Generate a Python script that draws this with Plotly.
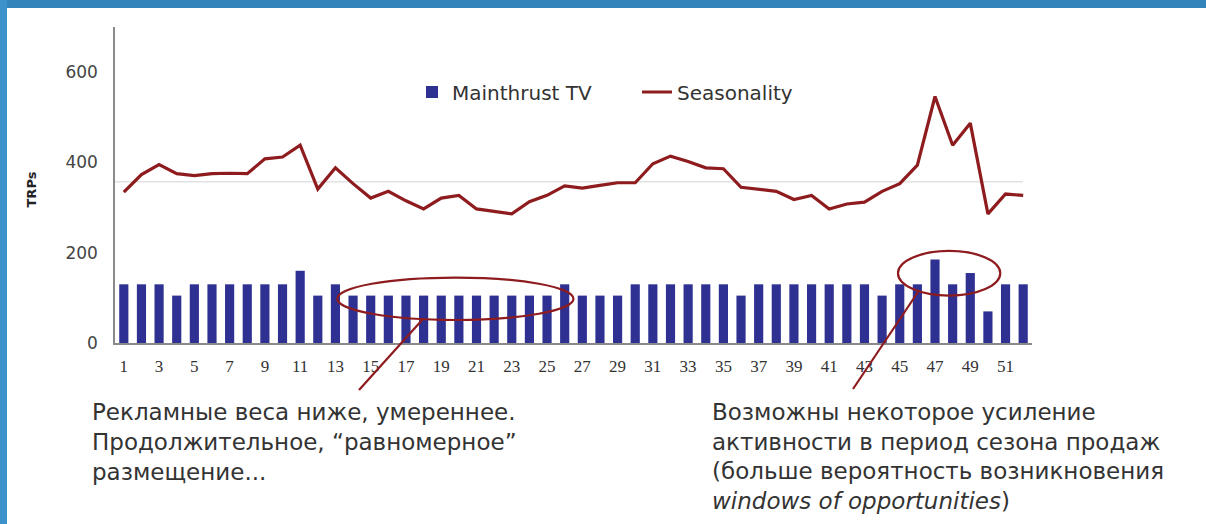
import plotly.graph_objects as go

# ---------------- data ----------------
weeks = list(range(1, 53))
tick_weeks = list(range(1, 52, 2))
mainthrust_tv = [130, 130, 130, 105, 130, 130, 130, 130, 130, 130,
                 160, 105, 130, 105, 105, 105, 105, 105, 105, 105,
                 105, 105, 105, 105, 105, 130, 105, 105, 105, 130,
                 130, 130, 130, 130, 130, 105, 130, 130, 130, 130,
                 130, 130, 130, 105, 130, 130, 185, 130, 155, 70,
                 130, 130]
seasonality = [334, 373, 395, 375, 371, 375, 376, 375, 408, 412,
               438, 341, 388, 353, 321, 336, 315, 297, 321, 327,
               297, 291, 286, 313, 327, 348, 343, 349, 355, 355,
               397, 414, 402, 388, 386, 345, 340, 336, 318, 327,
               297, 308, 312, 336, 353, 394, 546, 438, 487, 286,
               330, 327]
y_ticks = [0, 200, 400, 600]
series_names = ["Mainthrust TV", "Seasonality"]
note_left = ["Рекламные веса ниже, умереннее.",
             "Продолжительное, “равномерное”",
             "размещение..."]
note_right = ["Возможны некоторое усиление",
              "активности в период сезона продаж",
              "(больше вероятность возникновения",
              "<i>windows of opportunities</i>)"]

# ---------------- layout geometry ----------------
W, H = 1206, 524
L, R, T, B = 115, 174, 27, 181
PW, PH = W - L - R, H - T - B


def px(x):
    return (x - L) / PW


def py(y):
    return (H - B - y) / PH


BAR = "#2E3192"
RED = "#8E1B1E"
FONT = "DejaVu Sans"

fig = go.Figure()
fig.add_trace(go.Bar(x=weeks, y=mainthrust_tv, name=series_names[0],
                     marker=dict(color=BAR, line=dict(width=0))))
fig.add_trace(go.Scatter(x=weeks, y=seasonality, name=series_names[1],
                         mode="lines", line=dict(color=RED, width=3.2)))

mean_season = sum(seasonality) / len(seasonality)
fig.add_shape(type="line", xref="x", yref="y", x0=0.5, x1=weeks[-1],
              y0=mean_season, y1=mean_season, layer="below",
              line=dict(color="#E2E2E2", width=1.5))

# highlight ellipses
fig.add_shape(type="circle", xref="x", yref="y", x0=13.1, x1=26.5, y0=51, y1=145,
              line=dict(color=RED, width=2.2))
fig.add_shape(type="circle", xref="x", yref="y", x0=44.9, x1=50.7, y0=105, y1=204,
              line=dict(color=RED, width=2.2))
# pointer lines
fig.add_shape(type="line", xref="paper", yref="paper",
              x0=px(423), y0=py(319), x1=px(359), y1=py(390),
              line=dict(color=RED, width=2.2))
fig.add_shape(type="line", xref="paper", yref="paper",
              x0=px(918), y0=py(292), x1=px(853), y1=py(389),
              line=dict(color=RED, width=2.2))

# frame bands (slide border)
fig.add_shape(type="rect", xref="paper", yref="paper", x0=px(0), x1=px(W),
              y0=py(8), y1=py(0), line=dict(width=0), fillcolor="#3384B8")
fig.add_shape(type="rect", xref="paper", yref="paper", x0=px(0), x1=px(7),
              y0=py(H), y1=py(0), line=dict(width=0), fillcolor="#3C93CB")

annotations = []
annotations.append(dict(text="<b>TRPs</b>", xref="paper", yref="paper", x=px(21), y=py(190),
                        textangle=-90, showarrow=False,
                        font=dict(family=FONT, size=13, color="#222222")))
for i, line in enumerate(note_left):
    annotations.append(dict(text=line, xref="paper", yref="paper",
                            x=px(90), y=py(412 + 30 * i), xanchor="left", yanchor="middle",
                            showarrow=False, font=dict(family=FONT, size=23, color="#333333")))
for i, line in enumerate(note_right):
    annotations.append(dict(text=line, xref="paper", yref="paper",
                            x=px(710), y=py(412 + 29.5 * i), xanchor="left", yanchor="middle",
                            showarrow=False, font=dict(family=FONT, size=23, color="#333333")))

fig.update_layout(
    width=W, height=H,
    margin=dict(l=L, r=R, t=T, b=B, pad=0),
    paper_bgcolor="white", plot_bgcolor="white",
    bargap=0.48,
    showlegend=True,
    legend=dict(orientation="h", x=px(412), y=py(92), xanchor="left", yanchor="middle",
                font=dict(family=FONT, size=20, color="#333333"),
                bgcolor="rgba(0,0,0,0)", entrywidth=180),
    xaxis=dict(range=[0.5, 52.5], tickmode="array", tickvals=tick_weeks,
               ticktext=[str(v) for v in tick_weeks], showgrid=False, zeroline=False,
               showline=True, linecolor="#8A8A8A", linewidth=1.5,
               ticks="outside", ticklen=7, tickcolor="rgba(0,0,0,0)",
               tickfont=dict(family="Liberation Serif", size=17, color="#333333")),
    yaxis=dict(range=[0, 700], tickmode="array", tickvals=y_ticks, showgrid=False,
               zeroline=False, showline=True, linecolor="#8A8A8A", linewidth=1.5,
               ticks="outside", ticklen=12, tickcolor="rgba(0,0,0,0)",
               tickfont=dict(family=FONT, size=17, color="#444444")),
    annotations=annotations,
)

fig.write_html("out.html", config={"displayModeBar": False},
               post_script="document.body.style.margin='0';")
